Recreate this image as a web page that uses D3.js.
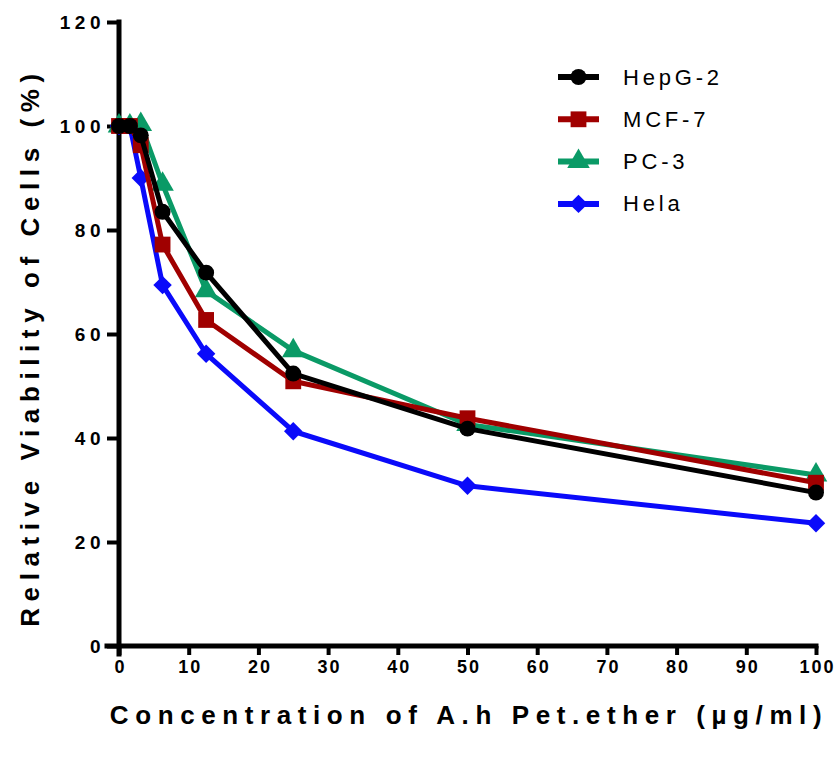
<!DOCTYPE html>
<html>
<head>
<meta charset="utf-8">
<script src="https://cdn.jsdelivr.net/npm/d3@7"></script>
<style>
  body { margin: 0; background: #fff; }
  text { font-family: "Liberation Sans", Arial, sans-serif; }
</style>
</head>
<body>
<div id="chart"></div>
<script>
const concentrations = [0, 1.5625, 3.125, 6.25, 12.5, 25, 50, 100];
const hepg2 = [100, 100, 98.2, 83.5, 71.8, 52.4, 41.8, 29.5];
const mcf7 = [100, 100, 96.3, 77.2, 62.7, 50.9, 43.8, 31.4];
const pc3 = [100, 100, 100.3, 88.8, 68.3, 56.8, 42.6, 32.9];
const hela = [100, 100, 90.0, 69.4, 56.2, 41.3, 30.8, 23.6];
const seriesNames = ["HepG-2", "MCF-7", "PC-3", "Hela"];
const seriesColors = ["#000000", "#a00000", "#0a9a66", "#0a0afa"];
const seriesShapes = ["circle", "square", "triangle", "diamond"];
const xTicks = [0, 10, 20, 30, 40, 50, 60, 70, 80, 90, 100];
const yTicks = [0, 20, 40, 60, 80, 100, 120];

const allSeries = [hepg2, mcf7, pc3, hela];
const width = 836, height = 758;
const margin = { left: 119, right: 20, top: 22, bottom: 112 };

const svg = d3.select("#chart").append("svg")
  .attr("width", width)
  .attr("height", height);

const x = d3.scaleLinear().domain([0, 100]).range([margin.left, 816]);
const y = d3.scaleLinear().domain([0, 120]).range([646, margin.top]);

// axes
const xAxis = svg.append("g")
  .attr("transform", "translate(0,646)")
  .call(d3.axisBottom(x).tickValues(xTicks).tickSize(9).tickPadding(5).tickSizeOuter(0));
xAxis.select(".domain").attr("d", `M107,0H${x(100)}`);
const yAxis = svg.append("g")
  .attr("transform", `translate(${margin.left},0)`)
  .call(d3.axisLeft(y).tickValues(yTicks).tickSize(12).tickPadding(2).tickSizeOuter(0));
yAxis.select(".domain").attr("d", `M0,${y(120)}V${y(0) + 8}`);

svg.selectAll(".domain").attr("stroke", "#000").attr("stroke-width", 5).attr("stroke-linecap", "square");
svg.selectAll(".tick line").attr("stroke", "#000").attr("stroke-width", 4);
xAxis.selectAll(".tick text")
  .attr("font-weight", "bold").attr("font-size", 18).attr("fill", "#000")
  .attr("letter-spacing", 2).attr("dx", 1);
yAxis.selectAll(".tick text")
  .attr("font-weight", "bold").attr("font-size", 19).attr("fill", "#000")
  .attr("letter-spacing", 4.5);

// symbols
const symbolTypes = {
  circle: d3.symbolCircle,
  square: d3.symbolSquare,
  triangle: d3.symbolTriangle,
  diamond: d3.symbolSquare
};
const symbolSizes = { circle: 200, square: 250, triangle: 220, diamond: 170 };
const symbolRotate = { circle: 0, square: 0, triangle: 0, diamond: 45 };

const line = d3.line()
  .x(d => x(d[0]))
  .y(d => y(d[1]));

// draw from last to first so HepG-2 ends on top
for (let s = allSeries.length - 1; s >= 0; s--) {
  const shape = seriesShapes[s];
  const pts = concentrations.map((c, i) => [c, allSeries[s][i]]);
  const g = svg.append("g");
  g.append("path")
    .attr("d", line(pts))
    .attr("fill", "none")
    .attr("stroke", seriesColors[s])
    .attr("stroke-width", 5)
    .attr("stroke-linejoin", "round");
  g.selectAll("path.mark")
    .data(pts)
    .enter()
    .append("path")
    .attr("class", "mark")
    .attr("transform", d => `translate(${x(d[0])},${y(d[1])}) rotate(${symbolRotate[shape]})`)
    .attr("d", d3.symbol().type(symbolTypes[shape]).size(symbolSizes[shape]))
    .attr("fill", seriesColors[s]);
}

// legend
const legend = svg.append("g").attr("transform", "translate(558,77)");
seriesNames.forEach((name, i) => {
  const shape = seriesShapes[i];
  const row = legend.append("g").attr("transform", `translate(0,${i * 42.3})`);
  row.append("line")
    .attr("x1", 0).attr("x2", 41)
    .attr("stroke", seriesColors[i]).attr("stroke-width", 6);
  row.append("path")
    .attr("transform", `translate(20.5,0) rotate(${symbolRotate[shape]})`)
    .attr("d", d3.symbol().type(symbolTypes[shape]).size(symbolSizes[shape]))
    .attr("fill", seriesColors[i]);
  row.append("text")
    .attr("x", 65).attr("y", 7.5)
    .attr("font-size", 22)
    .attr("letter-spacing", 3.8)
    .attr("fill", "#000")
    .text(name);
});

// axis titles
svg.append("text")
  .attr("transform", "translate(39,347) rotate(-90)")
  .attr("text-anchor", "middle")
  .attr("font-weight", "bold")
  .attr("font-size", 26)
  .attr("letter-spacing", 6.6)
  .text("Relative Viability of Cells (%)");
svg.append("text")
  .attr("x", 469).attr("y", 724)
  .attr("text-anchor", "middle")
  .attr("font-weight", "bold")
  .attr("font-size", 26)
  .attr("letter-spacing", 6.6)
  .text("Concentration of A.h Pet.ether (µg/ml)");
</script>
</body>
</html>
